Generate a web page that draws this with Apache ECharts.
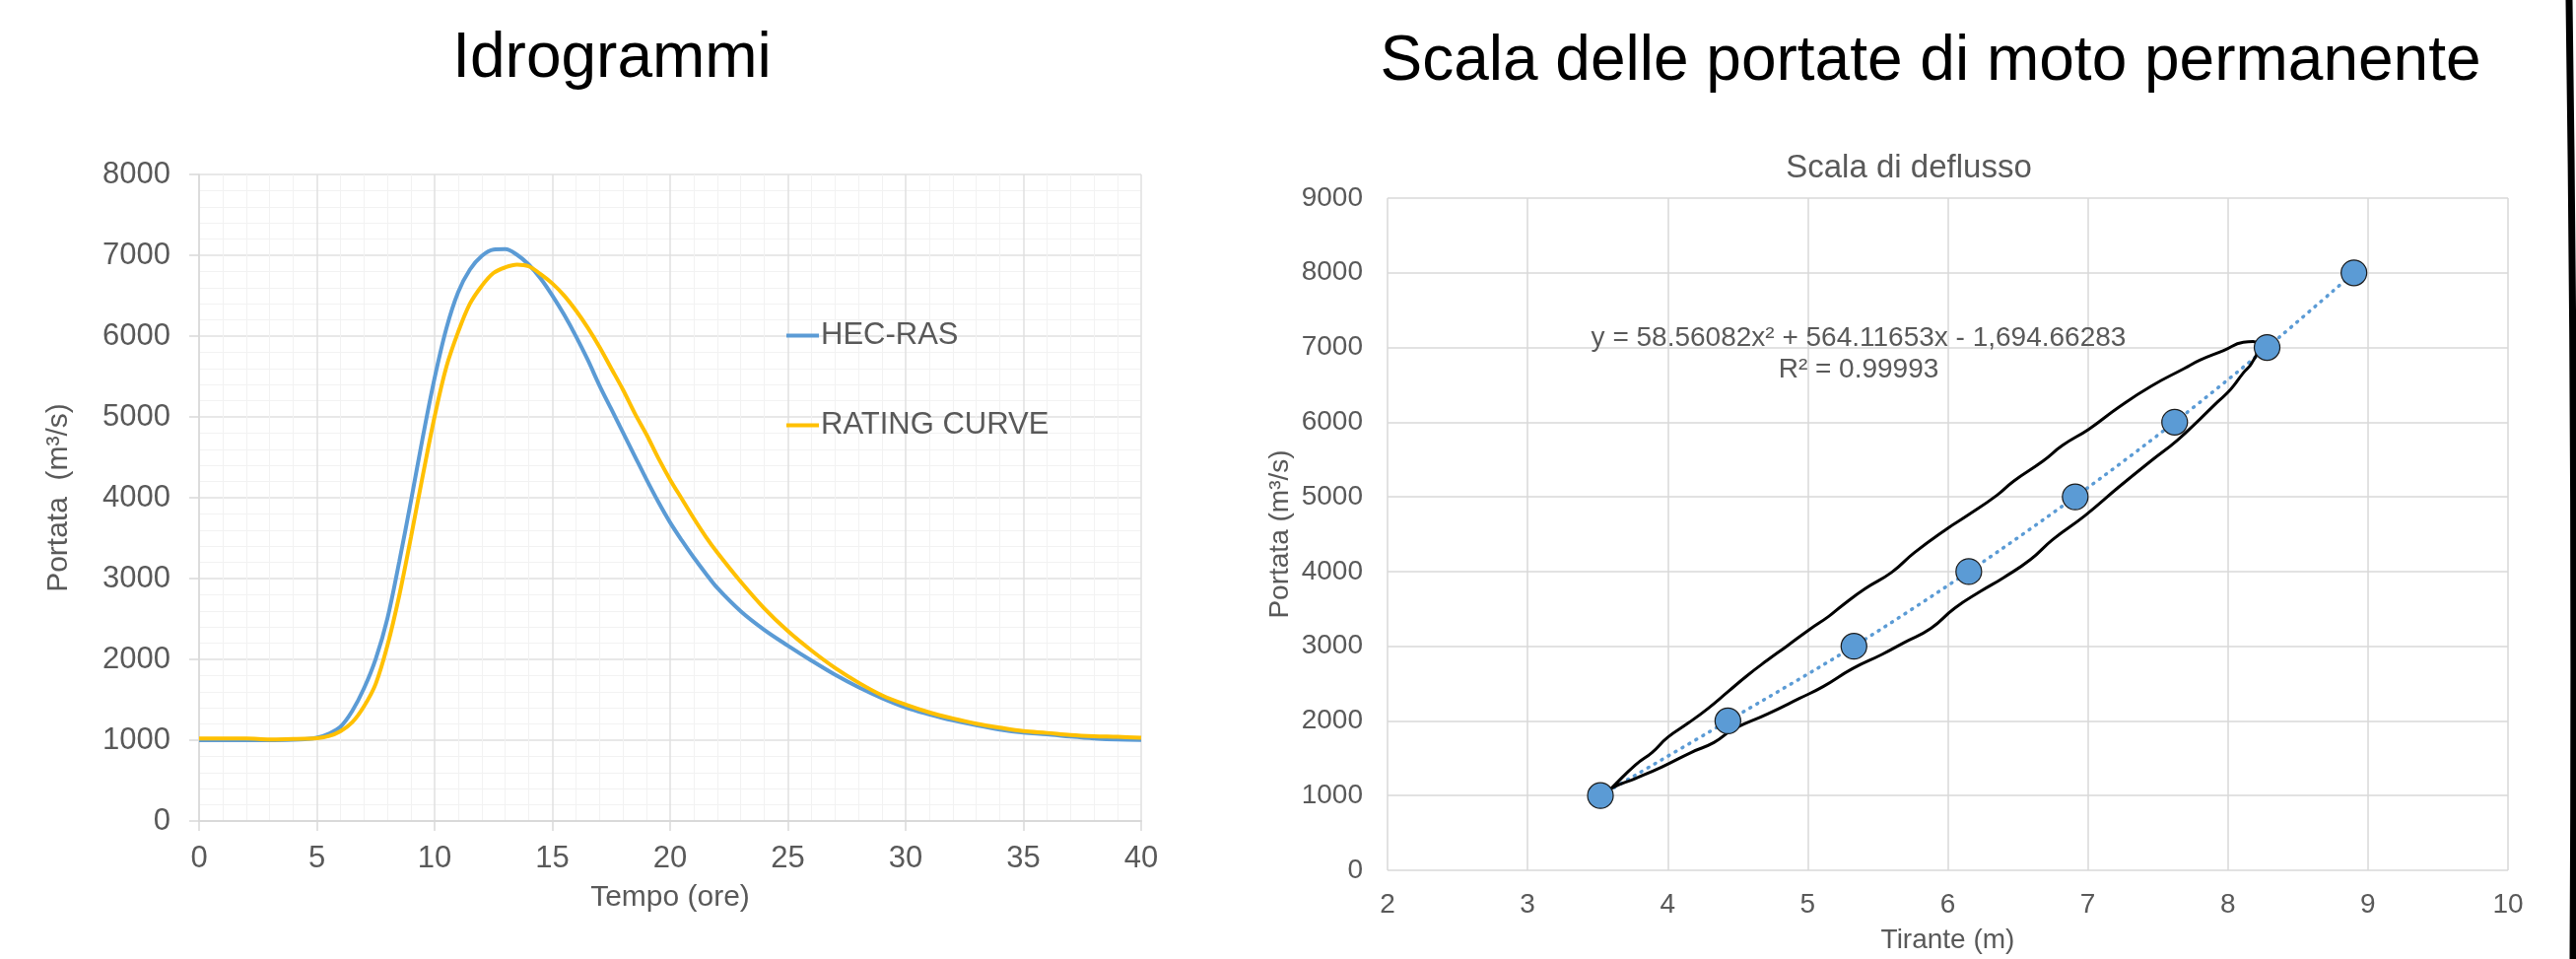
<!DOCTYPE html>
<html>
<head>
<meta charset="utf-8">
<script src="https://cdn.jsdelivr.net/npm/echarts@6/dist/echarts.min.js"></script>
<style>
html,body{margin:0;padding:0;background:#fff;}
#c{width:2614px;height:973px;}
</style>
</head>
<body>
<div id="c"></div>
<script>
// ---- Left chart: hydrographs ----
const tempo = [0,1,2,3,4,4.5,5,5.5,6,6.5,7,7.5,8,8.5,9,9.5,10,10.5,11,11.5,12,12.5,13,13.5,14,14.5,15,15.5,16,16.5,17,17.5,18,18.5,19,19.5,20,20.5,21,21.5,22,23,24,25,26,27,28,29,30,31,32,33,34,35,36,37,38,39,40];
const hecRas = [1000,1000,1000,1000,1005,1012,1030,1080,1165,1360,1640,2005,2510,3210,3966,4750,5480,6095,6543,6823,6990,7070,7075,7006,6884,6714,6502,6264,5999,5708,5390,5098,4807,4515,4224,3948,3694,3471,3262,3068,2885,2595,2365,2170,1985,1810,1655,1520,1405,1320,1245,1184,1131,1094,1073,1045,1022,1008,1004];
const ratingCurve = [1020,1020,1020,1010,1015,1018,1025,1050,1110,1220,1417,1697,2174,2790,3518,4275,5003,5619,6050,6400,6620,6780,6850,6884,6863,6767,6651,6502,6317,6105,5866,5601,5336,5045,4780,4489,4224,3985,3747,3524,3323,2960,2630,2350,2110,1895,1712,1555,1440,1345,1270,1205,1155,1112,1090,1065,1050,1042,1030];

// ---- Right chart: rating curve points ----
const tirante = [3.52,4.43,5.33,6.15,6.91,7.62,8.28,8.90];
const portata = [1000,2000,3000,4000,5000,6000,7000,8000];

// hand-drawn loop around the points
const loopX = [3.58,3.61,3.77,3.89,4.00,4.15,4.29,4.43,4.57,4.71,4.85,5.01,5.15,5.25,5.41,5.60,5.76,6.00,6.14,6.35,6.47,6.68,6.82,7.01,7.22,7.45,7.69,7.80,7.97,8.11,8.18,8.21,8.17,8.11,8.02,7.92,7.80,7.64,7.45,7.22,6.98,6.75,6.59,6.40,6.23,6.05,5.88,5.69,5.53,5.32,5.11,4.94,4.71,4.47,4.33,4.17,3.96,3.77,3.61,3.58];
const loopY = [1060,1120,1410,1580,1780,1975,2170,2390,2610,2810,3000,3220,3400,3550,3770,3990,4250,4580,4750,5020,5210,5480,5690,5910,6200,6480,6720,6830,6960,7070,7080,6985,6790,6660,6440,6260,6040,5760,5480,5130,4750,4430,4160,3920,3730,3510,3240,3050,2890,2700,2460,2300,2090,1890,1710,1580,1385,1230,1110,1060];

const FONT = 'Liberation Sans, Arial, sans-serif';
const GREY = '#595959';
const plain = v => String(v);

const chart = echarts.init(document.getElementById('c'), null, {renderer:'canvas'});

const zip = (a,b) => a.map((v,i)=>[v,b[i]]);

chart.setOption({
  animation:false,
  backgroundColor:'#ffffff',
  textStyle:{fontFamily:FONT},
  title:[
    {text:'Idrogrammi', left:621, top:28, textAlign:'center', padding:0,
     textStyle:{fontSize:64, lineHeight:64, fontWeight:'normal', color:'#000', fontFamily:FONT}},
    {text:'Scala delle portate di moto permanente', left:1959, top:31, textAlign:'center', padding:0,
     textStyle:{fontSize:64, lineHeight:64, fontWeight:'normal', color:'#000', fontFamily:FONT}},
    {text:'Scala di deflusso', left:1937, top:154, textAlign:'center', padding:0,
     textStyle:{fontSize:33, lineHeight:33, fontWeight:'normal', color:GREY, fontFamily:FONT}},
    {text:'y = 58.56082x² + 564.11653x - 1,694.66283', left:1886, top:329, textAlign:'center', padding:0,
     textStyle:{fontSize:28, lineHeight:28, fontWeight:'normal', color:GREY, fontFamily:FONT}},
    {text:'R² = 0.99993', left:1886, top:361, textAlign:'center', padding:0,
     textStyle:{fontSize:28, lineHeight:28, fontWeight:'normal', color:GREY, fontFamily:FONT}}
  ],
  legend:{
    data:['HEC-RAS','RATING CURVE'],
    orient:'vertical', left:798, top:325, padding:0,
    icon:'rect', itemWidth:33, itemHeight:4, itemGap:60,
    textStyle:{fontSize:31, lineHeight:31, color:GREY, fontFamily:FONT, padding:[0,0,0,-3]}
  },
  grid:[
    {left:202, top:177, width:956, height:656},
    {left:1408, top:201, width:1137, height:686}
  ],
  xAxis:[
    {gridIndex:0, type:'value', min:0, max:40, interval:5,
     name:'Tempo (ore)', nameLocation:'middle', nameGap:63,
     nameTextStyle:{fontSize:30, lineHeight:30, color:GREY, fontFamily:FONT},
     axisLine:{show:true, lineStyle:{color:'#d9d9d9', width:2}},
     axisTick:{show:true, length:10, lineStyle:{color:'#d9d9d9', width:1.5}},
     axisLabel:{fontSize:31, lineHeight:31, color:GREY, margin:23, fontFamily:FONT, formatter:plain},
     splitLine:{show:true, lineStyle:{color:'#e0e0e0', width:1.5}},
     minorTick:{show:false, splitNumber:5},
     minorSplitLine:{show:true, lineStyle:{color:'#f2f2f2', width:1}}
    },
    {gridIndex:1, type:'value', min:2, max:10, interval:1,
     name:'Tirante (m)', nameLocation:'middle', nameGap:57,
     nameTextStyle:{fontSize:28, lineHeight:28, color:GREY, fontFamily:FONT},
     axisLine:{show:false}, axisTick:{show:false},
     axisLabel:{fontSize:28, lineHeight:28, color:GREY, margin:21, fontFamily:FONT, formatter:plain},
     splitLine:{show:true, lineStyle:{color:'#d9d9d9', width:1.5}}
    }
  ],
  yAxis:[
    {gridIndex:0, type:'value', min:0, max:8000, interval:1000,
     name:'Portata  (m³/s)', nameLocation:'middle', nameGap:127, nameRotate:90,
     nameTextStyle:{fontSize:30, lineHeight:30, color:GREY, fontFamily:FONT},
     axisLine:{show:true, lineStyle:{color:'#d9d9d9', width:1.5}},
     axisTick:{show:true, length:10, lineStyle:{color:'#d9d9d9', width:1.5}},
     axisLabel:{fontSize:31, color:GREY, margin:29, fontFamily:FONT, formatter:plain},
     splitLine:{show:true, lineStyle:{color:'#e0e0e0', width:1.5}},
     minorTick:{show:false, splitNumber:5},
     minorSplitLine:{show:true, lineStyle:{color:'#f2f2f2', width:1}}
    },
    {gridIndex:1, type:'value', min:0, max:9000, interval:1000,
     name:'Portata (m³/s)', nameLocation:'middle', nameGap:95, nameRotate:90,
     nameTextStyle:{fontSize:28, lineHeight:28, color:GREY, fontFamily:FONT},
     axisLine:{show:false}, axisTick:{show:false},
     axisLabel:{fontSize:28, color:GREY, margin:25, fontFamily:FONT, formatter:plain},
     splitLine:{show:true, lineStyle:{color:'#d9d9d9', width:1.5}}
    }
  ],
  series:[
    {name:'HEC-RAS', type:'line', xAxisIndex:0, yAxisIndex:0, data:zip(tempo,hecRas),
     symbol:'none', smooth:0.35, lineStyle:{color:'#5B9BD5', width:4}, itemStyle:{color:'#5B9BD5'}, z:3},
    {name:'RATING CURVE', type:'line', xAxisIndex:0, yAxisIndex:0, data:zip(tempo,ratingCurve),
     symbol:'none', smooth:0.35, lineStyle:{color:'#FFC000', width:4}, itemStyle:{color:'#FFC000'}, z:4},
    {name:'trend', type:'line', xAxisIndex:1, yAxisIndex:1, data:zip(tirante,portata),
     symbol:'none', smooth:0.3, lineStyle:{color:'#5B9BD5', width:3.5, type:[1,7], cap:'round'}, z:2},
    {name:'loop', type:'line', xAxisIndex:1, yAxisIndex:1, data:zip(loopX,loopY),
     symbol:'none', smooth:0.5, lineStyle:{color:'#000', width:3}, z:3},
    {name:'punti', type:'scatter', xAxisIndex:1, yAxisIndex:1, data:zip(tirante,portata),
     symbolSize:26, itemStyle:{color:'#5B9BD5', borderColor:'#1a1a1a', borderWidth:1.2, opacity:1}, z:5}
  ],
  graphic:[
    {type:'bezierCurve', silent:true,
     shape:{x1:2607, y1:0, cpx1:2614, cpy1:480, x2:2611, y2:973},
     style:{stroke:'#000', lineWidth:7, fill:null}}
  ]
});
</script>
</body>
</html>
